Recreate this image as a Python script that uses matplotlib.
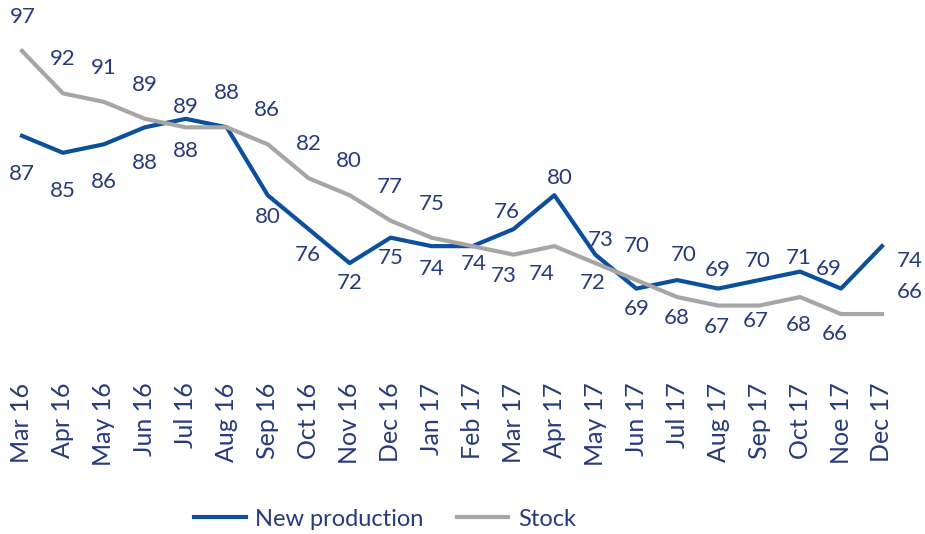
import matplotlib
matplotlib.use("Agg")
import matplotlib.pyplot as plt

months = ["Mar 16", "Apr 16", "May 16", "Jun 16", "Jul 16", "Aug 16", "Sep 16", "Oct 16",
          "Nov 16", "Dec 16", "Jan 17", "Feb 17", "Mar 17", "Apr 17", "May 17", "Jun 17",
          "Jul 17", "Aug 17", "Sep 17", "Oct 17", "Noe 17", "Dec 17"]
new_production = [87, 85, 86, 88, 89, 88, 80, 76, 72, 75, 74, 74, 76, 80, 73, 69, 70, 69, 70, 71, 69, 74]
stock = [97, 92, 91, 89, 88, 88, 86, 82, 80, 77, 75, 74, 73, 74, 72, 70, 68, 67, 67, 68, 66, 66]

# label offsets in pixels from the point (dx, dy downwards), None = no label
new_off = [(0, 38), (0, 38), (0, 38), (0, 36), (0, -12), (0, -34), (0, 22), (-1, 26),
           (0, 20), (0, 20), (0, 23), (1, 18), (-7, -17), (5, -17), (5, -15), (0, 20),
           (6, -25), (-1, -19), (-1, -19), (-1, -14), (-12, -20), (28, 15)]
stock_off = [(1, -34), (0, -34), (0, -34), (0, -34), (0, 24), None, (-1, -34), (0, -34),
             (-1, -34), (-1, -34), (0, -34), None, (-10, 21), (-13, 28), (-3, 20), (0, -34),
             (0, 21), (-1, 21), (-3, 15), (-1, 28), (-6, 20), (28, -22)]

plt.rcParams["font.family"] = ["Lato", "DejaVu Sans"]
txt = "#263b7c"
blue = "#0b4f9d"
grey = "#a6a6a6"

fig = plt.figure(figsize=(9.25, 5.34), dpi=100)
ax = fig.add_axes([0, 0.307, 1, 0.693])
x = list(range(len(months)))
l1, = ax.plot(x, new_production, color=blue, lw=3, solid_joinstyle="round", label="New production")
l2, = ax.plot(x, stock, color=grey, lw=3, solid_joinstyle="round", label="Stock")

def labels(vals, offs):
    for i, (v, o) in enumerate(zip(vals, offs)):
        if o is None:
            continue
        ax.annotate(str(v), (i, v), xytext=(o[0], -o[1]), textcoords="offset pixels",
                    ha="center", va="center", fontsize=16, color=txt)

labels(new_production, new_off)
labels(stock, stock_off)

ax.set_xlim(-0.537, 22.05)
ax.set_ylim(59.4, 103.0)
ax.set_xticks(x)
ax.set_xticklabels(months, rotation=90, fontsize=18, color=txt)
ax.tick_params(axis="x", length=0, pad=9)
ax.set_yticks([])
for s in ax.spines.values():
    s.set_visible(False)

fig.legend(handles=[l1, l2], loc="center", bbox_to_anchor=(0.416, 0.028), ncol=2,
           frameon=False, fontsize=17, labelcolor=txt, handlelength=2.2,
           handletextpad=0.4, columnspacing=1.4)

fig.savefig("out.png", dpi=100)
